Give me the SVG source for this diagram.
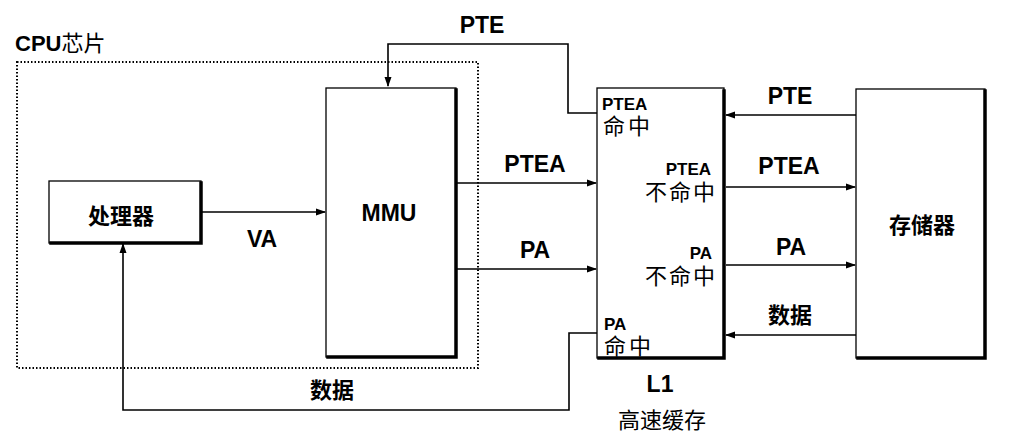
<svg xmlns="http://www.w3.org/2000/svg" width="1026" height="443" viewBox="0 0 1026 443">
<style>
.box{fill:#fff;stroke:#000;stroke-width:1.3}
.sh{fill:none;stroke:#000;stroke-width:3.5;stroke-linecap:square}
.ln{fill:none;stroke:#000;stroke-width:1.6}
.dot{fill:none;stroke:#000;stroke-width:2;stroke-dasharray:1.5,2}
.lb{font-family:"Liberation Sans",Arial,sans-serif;font-weight:bold;font-size:23px;fill:#000}
.sm{font-family:"Liberation Sans",Arial,sans-serif;font-weight:bold;font-size:17px;fill:#000}
.cj{font-family:"Liberation Sans","Noto Sans CJK SC",sans-serif;font-weight:bold;font-size:22px;fill:#000}
.cn{font-family:"Liberation Sans","Noto Sans CJK SC",sans-serif;font-weight:normal;font-size:22px;fill:#000}
</style>
<defs>
<marker id="ah" markerWidth="10" markerHeight="8" refX="9" refY="4" orient="auto" markerUnits="userSpaceOnUse">
<path d="M0,0.5 L10,4 L0,7.5 Z" fill="#000"/>
</marker>
</defs>
<rect width="1026" height="443" fill="#fff"/>
<g id="cpu-chip">
<rect class="dot" x="17" y="62" width="461" height="306"/>
<text class="cn" x="15" y="51"><tspan font-weight="bold">CPU</tspan>芯片</text>
</g>
<g id="processor">
<rect class="box" x="49" y="181" width="152" height="62"/>
<path class="sh" d="M201,183 V243 H51"/>
<text class="cj" x="121" y="224" text-anchor="middle">处理器</text>
</g>
<g id="mmu">
<rect class="box" x="326" y="88" width="130" height="269"/>
<path class="sh" d="M456,90 V357 H328"/>
<text class="lb" x="389" y="221" text-anchor="middle">MMU</text>
</g>
<g id="cache">
<rect class="box" x="597" y="88" width="127" height="270"/>
<path class="sh" d="M724,91 V358 H599"/>
<text class="sm" x="602" y="110">PTEA</text>
<text class="cn" x="603" y="134" letter-spacing="3">命中</text>
<text class="sm" x="711" y="175" text-anchor="end">PTEA</text>
<text class="cn" x="717" y="200" text-anchor="end" letter-spacing="2">不命中</text>
<text class="sm" x="712" y="259" text-anchor="end">PA</text>
<text class="cn" x="717" y="284" text-anchor="end" letter-spacing="2">不命中</text>
<text class="sm" x="604" y="330">PA</text>
<text class="cn" x="604" y="354" letter-spacing="3">命中</text>
<text class="lb" x="660" y="392" text-anchor="middle">L1</text>
<text class="cn" x="662" y="428" text-anchor="middle">高速缓存</text>
</g>
<g id="memory">
<rect class="box" x="856" y="89" width="129" height="269"/>
<path class="sh" d="M985,91 V358 H858" stroke-width="2.5"/>
<text class="cj" x="922" y="233" text-anchor="middle">存储器</text>
</g>
<g id="connectors">
<path class="ln" d="M201,212 H325" marker-end="url(#ah)"/>
<path class="ln" d="M597,113 H568 V44 H388 V86" marker-end="url(#ah)"/>
<path class="ln" d="M456,183 H596" marker-end="url(#ah)"/>
<path class="ln" d="M456,269 H596" marker-end="url(#ah)"/>
<path class="ln" d="M597,333 H569 V410 H123 V244" marker-end="url(#ah)"/>
<path class="ln" d="M856,115 H726" marker-end="url(#ah)"/>
<path class="ln" d="M726,187 H855" marker-end="url(#ah)"/>
<path class="ln" d="M726,265 H855" marker-end="url(#ah)"/>
<path class="ln" d="M856,335 H726" marker-end="url(#ah)"/>
</g>
<g id="labels">
<text class="lb" x="482" y="33" text-anchor="middle">PTE</text>
<text class="lb" x="262" y="247" text-anchor="middle">VA</text>
<text class="lb" x="535" y="172" text-anchor="middle">PTEA</text>
<text class="lb" x="535" y="258" text-anchor="middle">PA</text>
<text class="cj" x="332" y="398" text-anchor="middle">数据</text>
<text class="lb" x="790" y="104" text-anchor="middle">PTE</text>
<text class="lb" x="789" y="174" text-anchor="middle">PTEA</text>
<text class="lb" x="791" y="255" text-anchor="middle">PA</text>
<text class="cj" x="790" y="323" text-anchor="middle">数据</text>
</g>
</svg>
